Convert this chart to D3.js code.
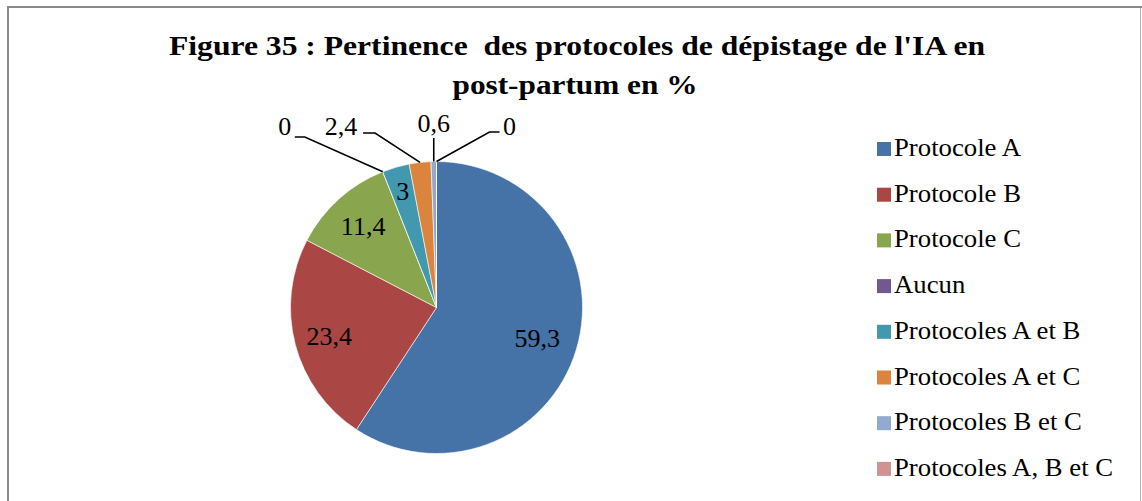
<!DOCTYPE html>
<html lang="fr">
<head>
<meta charset="utf-8">
<script src="https://cdn.jsdelivr.net/npm/d3@7/dist/d3.min.js"></script>
<style>
  html, body { margin: 0; padding: 0; background: #fff; }
  svg { display: block; }
  text { font-family: "Liberation Serif", "Times New Roman", serif; fill: #000; }
</style>
</head>
<body>
<svg id="chart" width="1142" height="501"></svg>
<script>
// Répartition des protocoles de dépistage de l'IA en post-partum (%)
const categories = [
  "Protocole A", "Protocole B", "Protocole C", "Aucun",
  "Protocoles A et B", "Protocoles A et C", "Protocoles B et C", "Protocoles A, B et C"
];
const values = [59.3, 23.4, 11.4, 0, 3, 2.4, 0.6, 0];
const valueLabels = ["59,3", "23,4", "11,4", "0", "3", "2,4", "0,6", "0"];
const colors = ["#4572A7", "#AA4643", "#89A54E", "#71588F", "#4198AF", "#DB843D", "#93A9CF", "#D19392"];
const titleLines = ["Figure 35 : Pertinence  des protocoles de dépistage de l'IA en", "post-partum en %"];

const W = 1142, H = 501;
const svg = d3.select("#chart");

// cadre du graphique
svg.append("line").attr("x1", 8).attr("x2", W).attr("y1", 7).attr("y2", 7)
  .attr("stroke", "#8a8a8a").attr("stroke-width", 2);
svg.append("line").attr("x1", 8).attr("x2", 8).attr("y1", 6).attr("y2", H)
  .attr("stroke", "#8a8a8a").attr("stroke-width", 2);
svg.append("line").attr("x1", 1140.5).attr("x2", 1140.5).attr("y1", 8).attr("y2", H)
  .attr("stroke", "#b4b4b4").attr("stroke-width", 1);

// titre
const title = svg.append("g").attr("font-weight", "bold").attr("text-anchor", "middle");
title.append("text").attr("x", 577).attr("y", 55)
  .style("font-size", "28px").style("white-space", "pre")
  .attr("textLength", 816).attr("lengthAdjust", "spacingAndGlyphs")
  .text(titleLines[0]);
title.append("text").attr("x", 575).attr("y", 94)
  .style("font-size", "28px")
  .attr("textLength", 245).attr("lengthAdjust", "spacingAndGlyphs")
  .text(titleLines[1]);

// camembert
const cx = 436.5, cy = 307.5, r = 146;
const pie = d3.pie().sort(null).value(d => d)(values);
const arc = d3.arc().innerRadius(0).outerRadius(r);
const g = svg.append("g").attr("transform", `translate(${cx},${cy})`);

g.selectAll("path.slice").data(pie).enter().append("path")
  .attr("class", "slice")
  .attr("d", arc)
  .attr("fill", (d, i) => colors[i])
  .attr("stroke", "#fff").attr("stroke-width", 0.6);

// étiquettes à l'intérieur des parts
const inside = { 0: 0.72, 1: 0.76, 2: 0.75, 4: 0.83 };
const midAngle = d => (d.startAngle + d.endAngle) / 2;
Object.keys(inside).forEach(k => {
  const i = +k, d = pie[i], a = midAngle(d), rr = r * inside[k];
  g.append("text")
    .attr("x", Math.sin(a) * rr)
    .attr("y", -Math.cos(a) * rr)
    .attr("dy", "0.35em")
    .attr("text-anchor", "middle")
    .style("font-size", "26px")
    .text(valueLabels[i]);
});

// étiquettes extérieures avec lignes de rappel
const labelY = -r - 26.5;    // ligne de base du texte
const outside = [
  { i: 3, dx: -98, elbow: -78, end: -88, ly: 2, ty: 0 },
  { i: 5, dx: -79, elbow: -45, end: -57, ly: -2, ty: 0 },
  { i: 6, dx: 0, elbow: 0, end: 0, ly: 3, ty: -3 },
  { i: 7, dx: 73, elbow: 53, end: 63, ly: -3, ty: 0 }
];
outside.forEach(o => {
  const d = pie[o.i], a = midAngle(d);
  const px = Math.sin(a) * r, py = -Math.cos(a) * r;
  const lineY = labelY + o.ly;
  const pts = o.dx === 0
    ? [[px, py], [px, lineY]]
    : [[px, py], [px + o.elbow, lineY], [px + o.end, lineY]];
  g.append("path")
    .attr("d", d3.line()(pts))
    .attr("fill", "none").attr("stroke", "#000").attr("stroke-width", 1.6);
  g.append("text")
    .attr("x", px + o.dx)
    .attr("y", labelY + o.ty)
    .attr("text-anchor", "middle")
    .style("font-size", "26px")
    .text(valueLabels[o.i]);
});

// légende
const legend = svg.append("g").attr("transform", "translate(877,142)");
const item = legend.selectAll("g").data(categories).enter().append("g")
  .attr("transform", (d, i) => `translate(0,${i * 45.7})`);
item.append("rect").attr("width", 14).attr("height", 14)
  .attr("fill", (d, i) => colors[i]);
item.append("text")
  .attr("transform", "translate(17,14) scale(1.07,1)")
  .style("font-size", "25px")
  .text(d => d);
</script>
</body>
</html>
